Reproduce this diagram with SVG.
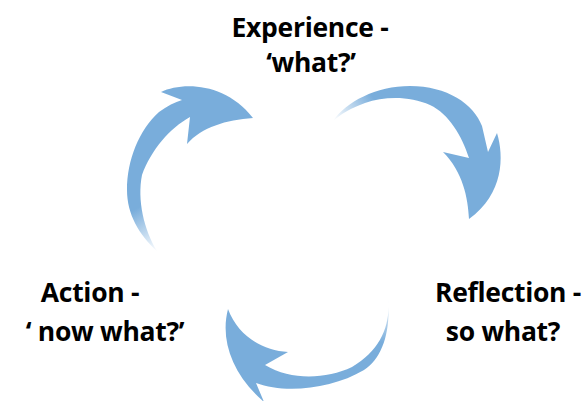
<svg xmlns="http://www.w3.org/2000/svg" width="586" height="401" viewBox="0 0 586 401">
  <defs>
    <!-- each arrow fades out toward its tail -->
    <linearGradient id="fadeTop" gradientUnits="userSpaceOnUse" x1="334" y1="122" x2="372" y2="96">
      <stop offset="0" stop-color="#79addb" stop-opacity="0"/>
      <stop offset="1" stop-color="#79addb" stop-opacity="1"/>
    </linearGradient>
    <linearGradient id="fadeLeft" gradientUnits="userSpaceOnUse" x1="158" y1="252" x2="134" y2="210">
      <stop offset="0" stop-color="#79addb" stop-opacity="0"/>
      <stop offset="1" stop-color="#79addb" stop-opacity="1"/>
    </linearGradient>
    <linearGradient id="fadeBottom" gradientUnits="userSpaceOnUse" x1="389" y1="297" x2="380" y2="342">
      <stop offset="0" stop-color="#79addb" stop-opacity="0"/>
      <stop offset="1" stop-color="#79addb" stop-opacity="1"/>
    </linearGradient>
  </defs>
  <style>
    .label { font-family: "Open Sans", "Liberation Sans", sans-serif; font-weight: 700; font-size: 26.5px; fill: #000; text-anchor: middle; letter-spacing: -0.3px; }
  </style>

  <rect width="586" height="401" fill="#ffffff"/>

  <g id="connectors">
    <!-- Experience to Reflection -->
    <path id="arrow-experience-reflection" fill="url(#fadeTop)"
      d="M333,121 C346,102 376,86 410,86 C447,86 474,104 482,126 L488,152 L497,133
         C504,156 504,194 469,219 C468,198 463,172 443,152 L469,158
         C462,136 449,114 430,105 C410,96 385,96 365,103 C351,108 341,114 333,121 Z"/>
    <!-- Reflection to Action -->
    <path id="arrow-reflection-action" fill="url(#fadeBottom)"
      d="M388,297 C391,325 381,350 352,367 C326,379 292,381 265,365 L288,352
         C262,350 238,336 228,309 C220,340 232,374 264,402 L256,383
         C285,394 332,389 364,370 C382,358 391,333 388,297 Z"/>
    <!-- Action to Experience -->
    <path id="arrow-action-experience" fill="url(#fadeLeft)"
      d="M157,251 C139,235 127,214 127,190 C127,160 139,130 159,112 C167,106 175,102 182,100
         L161,92 C182,82 225,82 253,118 C226,120 202,127 187,144 L190,117
         C170,128 151,150 142,175 C137,200 144,230 157,251 Z"/>
  </g>

  <g id="node-experience">
    <text class="label" x="310" y="37">Experience -</text>
    <text class="label" x="311" y="72">‘what?’</text>
  </g>
  <g id="node-reflection">
    <text class="label" x="508" y="302">Reflection -</text>
    <text class="label" x="503" y="341">so what?</text>
  </g>
  <g id="node-action">
    <text class="label" x="90" y="302">Action -</text>
    <text class="label" x="105" y="341">‘ now what?’</text>
  </g>
</svg>
